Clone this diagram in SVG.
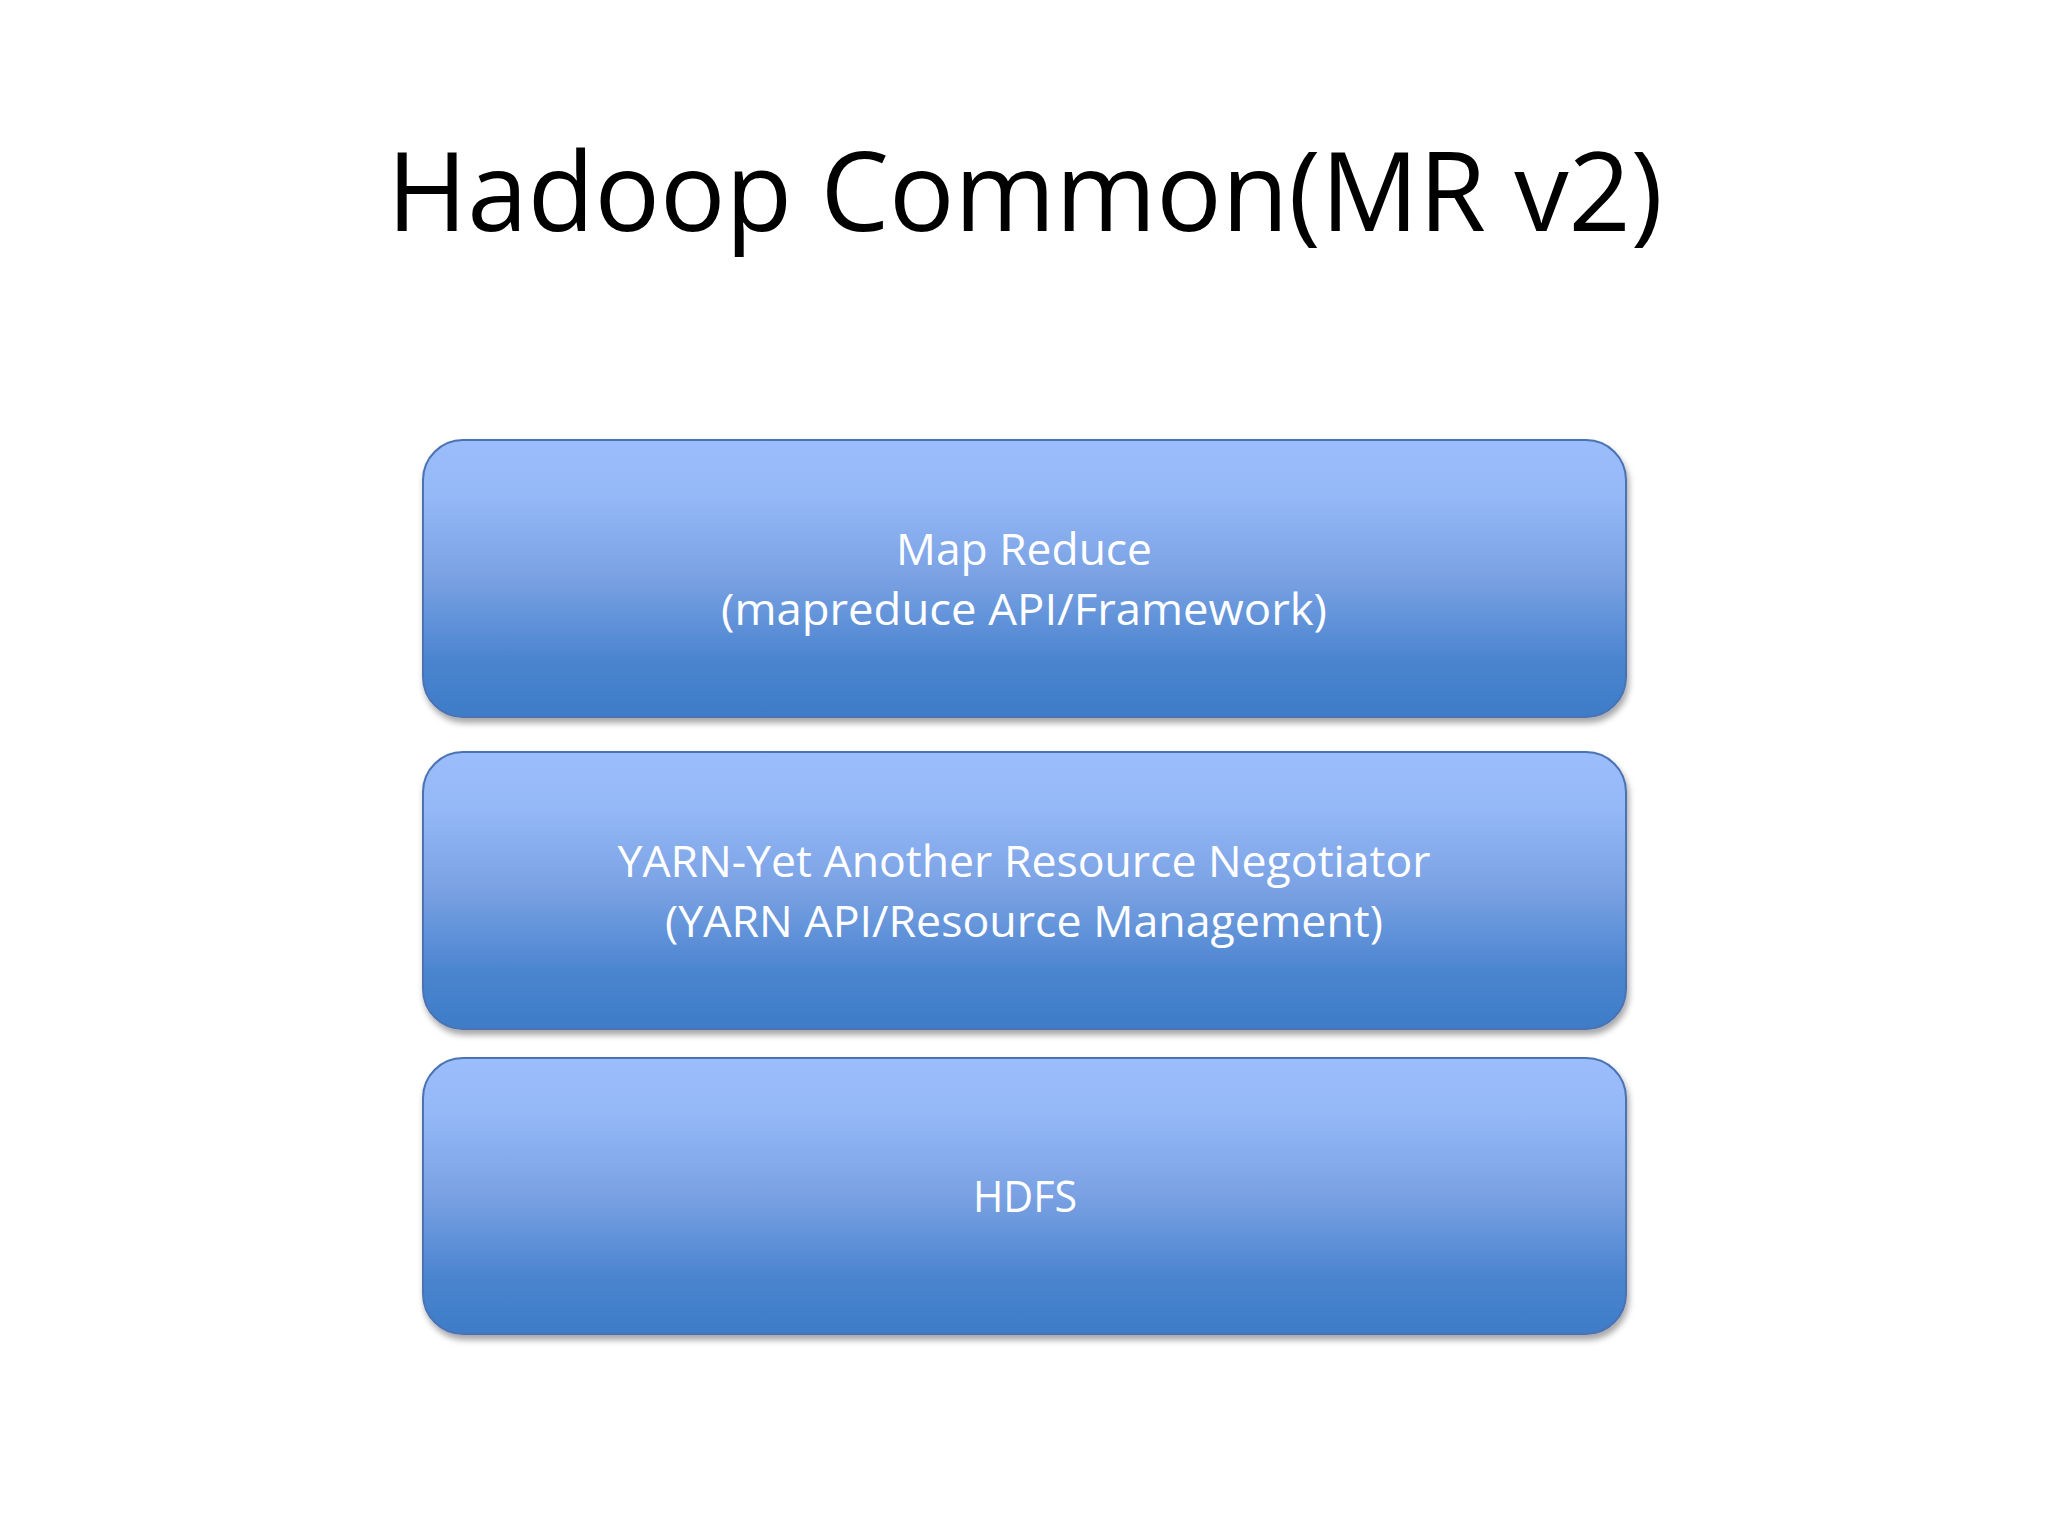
<svg xmlns="http://www.w3.org/2000/svg" width="2048" height="1536" viewBox="0 0 2048 1536">
<defs>
<linearGradient id="boxGrad" x1="0" y1="0" x2="0" y2="1">
<stop offset="0" stop-color="#9cbdfb"/>
<stop offset="0.2" stop-color="#95b8f7"/>
<stop offset="0.5" stop-color="#79a1e3"/>
<stop offset="0.8" stop-color="#4a84cf"/>
<stop offset="1" stop-color="#3e7cc8"/>
</linearGradient>
<filter id="shadow" x="-5%" y="-10%" width="110%" height="125%">
<feDropShadow dx="2" dy="5" stdDeviation="3" flood-color="#000" flood-opacity="0.35"/>
</filter>
</defs>
<style>
.box { fill: url(#boxGrad); stroke: #4b73b3; stroke-width: 2; filter: url(#shadow); }
.lbl { font-family: "Open Sans", "Noto Sans", sans-serif; font-size: 43px; fill: #ffffff; text-anchor: middle; }
.title { font-family: "Open Sans", "Noto Sans", sans-serif; font-size: 110px; fill: #000000; text-anchor: middle; }
</style>
<rect width="2048" height="1536" fill="#ffffff"/>
<g id="title">
<text class="title" x="1025" y="231" textLength="1276" lengthAdjust="spacingAndGlyphs">Hadoop Common(MR v2)</text>
</g>
<g id="mapreduce">
<rect class="box" x="423" y="440" width="1203" height="277" rx="40" ry="40"/>
<text class="lbl" x="1024" y="565" textLength="256" lengthAdjust="spacingAndGlyphs">Map Reduce</text>
<text class="lbl" x="1024" y="625" textLength="606" lengthAdjust="spacingAndGlyphs">(mapreduce API/Framework)</text>
</g>
<g id="yarn">
<rect class="box" x="423" y="752" width="1203" height="277" rx="40" ry="40"/>
<text class="lbl" x="1024" y="877" textLength="813" lengthAdjust="spacingAndGlyphs">YARN-Yet Another Resource Negotiator</text>
<text class="lbl" x="1024" y="937" textLength="718" lengthAdjust="spacingAndGlyphs">(YARN API/Resource Management)</text>
</g>
<g id="hdfs">
<rect class="box" x="423" y="1058" width="1203" height="276" rx="40" ry="40"/>
<text class="lbl" x="1025" y="1212" textLength="104" lengthAdjust="spacingAndGlyphs">HDFS</text>
</g>
<g id="connectors"/>
</svg>
